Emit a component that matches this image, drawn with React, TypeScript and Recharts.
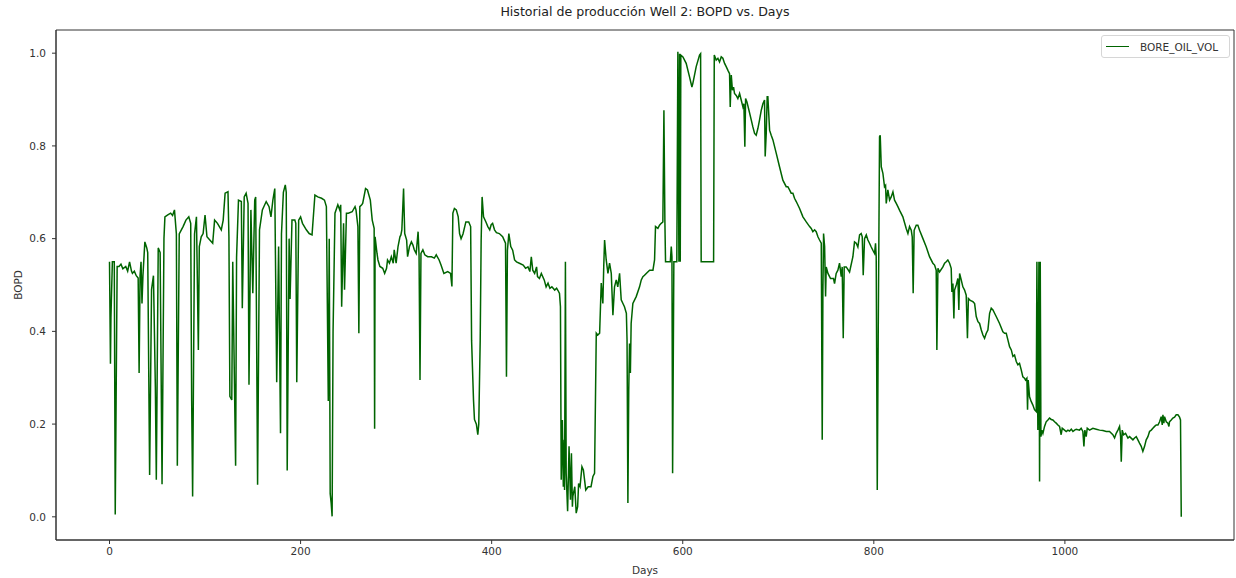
import React from 'react';
import { LineChart, Line, XAxis, YAxis, Legend, ReferenceArea } from 'recharts';

// [day, BORE_OIL_VOL (normalised)], split by period
const period1: [number, number][] = [
  [0, 0.55], [1, 0.33], [1.5, 0.43], [3, 0.55], [5, 0.55], [6, 0.005], [8, 0.54], [10, 0.54],
  [12, 0.545], [14, 0.535], [17, 0.54], [19, 0.53], [21, 0.55], [23, 0.53], [24, 0.525], [26, 0.53],
  [28, 0.52], [30, 0.515], [31, 0.31], [32, 0.52], [33, 0.55], [34, 0.46], [35, 0.52], [37, 0.593],
  [39, 0.58], [40, 0.57], [42, 0.09], [44, 0.49], [46, 0.52], [48, 0.28], [49, 0.08], [51, 0.58],
  [53, 0.57], [55, 0.07], [57, 0.6], [58, 0.647], [61, 0.651], [64, 0.655], [66, 0.65], [68, 0.662],
  [70, 0.61], [71, 0.11], [73, 0.61], [77, 0.626], [80, 0.64], [83, 0.647], [85, 0.633], [86, 0.25],
  [87, 0.044], [89, 0.61], [91, 0.647], [93, 0.36], [94, 0.583], [96, 0.604], [98, 0.611], [100, 0.651],
  [102, 0.604], [105, 0.597], [108, 0.59], [110, 0.64], [113, 0.633], [117, 0.619], [119, 0.64],
  [121, 0.698], [124, 0.701], [125, 0.604], [126, 0.26], [128, 0.252], [129, 0.55], [132, 0.11],
  [133, 0.56], [135, 0.683], [138, 0.68], [139, 0.45], [141, 0.69], [143, 0.698], [145, 0.676],
  [146, 0.285], [148, 0.662], [150, 0.482], [152, 0.683], [153, 0.69], [155, 0.069], [157, 0.619],
  [160, 0.662], [164, 0.68], [167, 0.669], [169, 0.647], [171, 0.683], [173, 0.708], [175, 0.29],
  [177, 0.583], [179, 0.18], [180, 0.61], [182, 0.7], [184, 0.716], [185, 0.7], [186, 0.1],
];

const period2: [number, number][] = [
  [188, 0.6], [189, 0.47], [191, 0.64], [194, 0.64], [195, 0.633], [196, 0.29], [198, 0.64], [200, 0.647],
  [202, 0.633], [206, 0.619], [209, 0.611], [212, 0.608], [215, 0.694], [218, 0.69], [222, 0.687],
  [225, 0.683], [227, 0.669], [228, 0.46], [229, 0.25], [230, 0.6], [231, 0.05], [232, 0.03], [233, 0.001],
  [234, 0.4], [236, 0.655], [239, 0.673], [241, 0.662], [242, 0.673], [243, 0.453], [245, 0.633],
  [246, 0.49], [248, 0.655], [250, 0.655], [254, 0.658], [257, 0.669], [258, 0.662], [260, 0.626],
  [261, 0.396], [262, 0.669], [264, 0.673], [265, 0.676], [268, 0.708], [270, 0.705], [273, 0.683],
  [275, 0.64], [277, 0.622], [277.5, 0.19], [278, 0.604], [280, 0.568], [281, 0.554], [283, 0.54],
  [286, 0.536], [288, 0.525], [290, 0.536], [291, 0.554], [293, 0.547], [295, 0.561], [297, 0.547],
  [298, 0.576], [300, 0.547], [302, 0.583], [304, 0.604], [305, 0.608], [306, 0.619], [307.8, 0.708],
  [309, 0.611], [311, 0.597], [312, 0.561], [314, 0.583], [316, 0.593], [317.6, 0.586], [319, 0.576],
  [321, 0.568], [323, 0.615], [324, 0.565], [325, 0.295], [326, 0.568], [328, 0.576], [330, 0.565],
  [333, 0.561], [337, 0.561], [340, 0.558], [342, 0.565], [345, 0.554], [347, 0.543], [350, 0.525],
  [354, 0.529], [357, 0.525], [358.4, 0.497], [359.4, 0.655], [361, 0.665], [363, 0.662], [365, 0.647],
  [366.4, 0.611], [368, 0.6], [370, 0.61], [373, 0.636], [376, 0.636], [378, 0.626],
];

const period3: [number, number][] = [
  [379, 0.38], [381, 0.252], [382, 0.21], [384, 0.2], [385.5, 0.177], [386.5, 0.2], [388, 0.38],
  [389, 0.597], [390, 0.69], [391.5, 0.647], [394, 0.636], [396, 0.626], [398, 0.619], [399.5, 0.63],
  [401, 0.633], [403, 0.619], [405, 0.613], [408, 0.611], [411.5, 0.604], [414.5, 0.59], [415.5, 0.302],
  [416.5, 0.575], [418, 0.611], [420, 0.583], [422, 0.575], [424, 0.554], [426, 0.55], [429, 0.547],
  [433, 0.543], [435.5, 0.536], [438, 0.539], [440, 0.529], [441.5, 0.561], [443, 0.532], [445, 0.525],
  [447, 0.539], [448, 0.518], [450, 0.514], [452, 0.525], [455, 0.511], [457, 0.496], [459, 0.504],
  [461, 0.493], [463, 0.496], [466, 0.489], [468, 0.493], [470, 0.486], [471, 0.482], [472, 0.453],
  [472.8, 0.08], [474, 0.209], [475, 0.065], [476, 0.166], [476.3, 0.058], [477.2, 0.55], [478, 0.094],
  [479.5, 0.012], [481, 0.152], [482.5, 0.037], [483.5, 0.137], [484.5, 0.022], [485, 0.044],
  [487, 0.065], [488.5, 0.008], [490, 0.022], [491, 0.072], [492.5, 0.065], [494.5, 0.108], [496, 0.101],
  [498.5, 0.058], [501, 0.065], [504, 0.065], [506, 0.087], [507.7, 0.094], [509.5, 0.396], [511, 0.392],
  [513, 0.396], [514.7, 0.504], [516.4, 0.46], [517.3, 0.539], [518.2, 0.597], [519.9, 0.554],
  [521.7, 0.525], [523.4, 0.547], [525.2, 0.525], [526.9, 0.435], [528.6, 0.496], [530.4, 0.511],
  [532, 0.496], [533.9, 0.525], [535.6, 0.468], [537.4, 0.46], [539, 0.453], [541, 0.439], [541.7, 0.382],
  [542.6, 0.03], [543.5, 0.274], [544.3, 0.374], [545.2, 0.31], [546, 0.417], [547.8, 0.46],
  [551.3, 0.475], [554.8, 0.496], [556.6, 0.511], [558.3, 0.518], [560, 0.521], [561.8, 0.525],
  [565.3, 0.532],
];

const period4: [number, number][] = [
  [567, 0.532], [568.8, 0.532], [570.5, 0.554], [571.5, 0.626], [574, 0.622], [575.7, 0.629],
  [577.5, 0.633], [579.2, 0.636], [580.3, 0.877], [581.3, 0.64], [582, 0.55], [584.5, 0.55], [587, 0.55],
  [588, 0.583], [588.7, 0.561], [589.4, 0.094], [590.7, 0.55], [592.5, 0.55], [593.8, 0.55],
  [594.9, 1.003], [596, 0.55], [596.7, 0.999], [597.4, 0.55], [598, 0.996], [600.2, 0.992],
  [603.6, 0.978], [607.1, 0.949], [609.6, 0.927], [610.6, 0.935], [614.1, 0.971], [617.6, 0.996],
  [618.7, 0.999], [619.3, 0.55], [624.6, 0.55], [628.1, 0.55], [632.3, 0.55], [633, 0.996],
  [635, 0.985], [636.8, 0.989], [638.5, 0.981], [640.3, 0.992], [642, 0.989], [643.8, 0.978],
  [645.5, 0.971], [647.3, 0.963], [649, 0.956], [649.7, 0.884], [650.8, 0.953], [652, 0.92],
  [653.2, 0.927], [654.2, 0.913], [656, 0.909], [657.7, 0.902], [659.5, 0.913], [661.2, 0.899],
  [663, 0.884], [664, 0.891], [665, 0.798], [665.8, 0.902], [667.2, 0.895], [669.3, 0.877],
  [671.7, 0.856], [673.4, 0.841], [675.2, 0.827], [676.9, 0.823], [678.7, 0.838], [680.4, 0.856],
  [682.2, 0.877], [683.9, 0.891], [685.6, 0.899], [686.3, 0.777], [687.4, 0.827], [688.4, 0.906],
  [689.1, 0.906], [690.9, 0.834], [692.6, 0.823], [694.4, 0.813], [697.9, 0.784], [701.3, 0.755],
  [704.8, 0.726], [708.3, 0.712], [710, 0.712], [711.8, 0.705], [713.5, 0.698], [715.3, 0.698],
  [717, 0.687], [718.8, 0.68], [722.3, 0.665], [725.8, 0.647], [729.3, 0.636], [732.8, 0.626],
  [734.5, 0.622], [736.2, 0.615], [738, 0.619], [739.7, 0.615], [741.5, 0.604], [743.2, 0.597],
  [745, 0.59], [746, 0.166], [746.7, 0.482], [747.4, 0.611], [748.5, 0.583], [749.5, 0.475],
  [750.2, 0.539], [752, 0.525], [753.7, 0.518],
];

const period5: [number, number][] = [
  [754.7, 0.514], [757.8, 0.514], [758.9, 0.503], [760.6, 0.525], [762.4, 0.532], [764.1, 0.547],
  [765.9, 0.518], [766.9, 0.539], [768, 0.385], [769, 0.539], [771.1, 0.539], [774.6, 0.528],
  [778.1, 0.561], [779.8, 0.593], [781.6, 0.59], [783.3, 0.582], [785.1, 0.608], [786.8, 0.611],
  [787.9, 0.604], [788.9, 0.521], [790.3, 0.6], [792.1, 0.608], [793.8, 0.597], [795.5, 0.59],
  [797.3, 0.582], [799, 0.575], [800.8, 0.568], [801.8, 0.59], [802.5, 0.561], [803.6, 0.058],
  [804.6, 0.389], [806, 0.82], [806.7, 0.823], [807.8, 0.755], [809.5, 0.741], [811.2, 0.712],
  [812.3, 0.715], [813, 0.676], [814.7, 0.705], [816.5, 0.683], [818.2, 0.69], [820, 0.701],
  [821.7, 0.683], [823.5, 0.676], [825.2, 0.669], [827, 0.661], [830.4, 0.647], [833.9, 0.622],
  [835.7, 0.611], [837.4, 0.626], [839.2, 0.618], [840.2, 0.604], [841.2, 0.482], [842.2, 0.618],
  [844.4, 0.629], [846.1, 0.629], [847.9, 0.618], [851.4, 0.6], [854.9, 0.582], [858.3, 0.561],
  [861.8, 0.547], [863.6, 0.543], [865.3, 0.532], [866, 0.36], [867.1, 0.536], [868.8, 0.528],
  [872.3, 0.539], [874.1, 0.547], [875.8, 0.55], [877.5, 0.554], [879.3, 0.547], [881, 0.536],
  [881.7, 0.485], [882.8, 0.503], [883.8, 0.428], [884.5, 0.489], [886.3, 0.5], [888, 0.514],
  [889, 0.446], [889.8, 0.525], [891.5, 0.511], [893.2, 0.496], [895, 0.489], [896.7, 0.478],
  [898, 0.385], [899, 0.471], [900.9, 0.467], [903.7, 0.464], [905.5, 0.46], [907.2, 0.432],
  [909, 0.421], [910.7, 0.417], [912.5, 0.403], [914.2, 0.392], [915.9, 0.385], [917.7, 0.396],
  [919.4, 0.403], [921.2, 0.439], [922.9, 0.45], [924.7, 0.446], [926.4, 0.439], [928.1, 0.432],
  [931.6, 0.417], [935.1, 0.399], [936.9, 0.396], [938.6, 0.396], [940.4, 0.381], [942.1, 0.367],
];

const period6: [number, number][] = [
  [943.9, 0.36], [945.6, 0.346], [947.3, 0.349], [949.1, 0.335], [950.8, 0.328], [952.5, 0.331],
  [954.3, 0.317], [956, 0.302], [957.7, 0.299], [958.8, 0.295], [960.2, 0.299], [960.9, 0.231],
  [961.6, 0.295], [963, 0.259], [964.7, 0.249], [966.5, 0.241], [968.2, 0.231], [970, 0.227],
  [970.7, 0.55], [971.7, 0.187], [972.8, 0.55], [973.5, 0.076], [974.2, 0.55], [974.9, 0.173],
  [975.9, 0.187], [977, 0.18], [978.7, 0.195], [980.4, 0.205], [982.2, 0.209], [983.9, 0.213],
  [985.7, 0.21], [987.4, 0.209], [989.2, 0.205], [990.9, 0.202], [992.7, 0.198], [994.4, 0.195],
  [996.1, 0.177], [997.2, 0.191], [999.6, 0.187], [1001.4, 0.184], [1003.2, 0.187], [1004.9, 0.185],
  [1006.7, 0.189], [1008.4, 0.184], [1010.2, 0.187], [1011.9, 0.189], [1015.3, 0.187], [1017, 0.191],
  [1018.8, 0.184], [1019.9, 0.152], [1020.9, 0.187], [1022.3, 0.173], [1023.4, 0.191], [1025.8, 0.187],
  [1029.3, 0.191], [1032.8, 0.189], [1036.3, 0.187], [1039.8, 0.186], [1043.3, 0.184], [1046.7, 0.184],
  [1050.2, 0.177], [1052, 0.17], [1053.7, 0.18], [1055.5, 0.187], [1057.2, 0.195], [1058.3, 0.173],
  [1059, 0.119], [1060, 0.187], [1061.4, 0.177], [1063.5, 0.18], [1066, 0.17], [1067.7, 0.173],
  [1071.2, 0.166], [1072.9, 0.17], [1074.7, 0.173], [1076.4, 0.166], [1078.1, 0.159], [1079.9, 0.152],
  [1081.6, 0.141], [1083.4, 0.152], [1085.1, 0.166], [1086.9, 0.173], [1088.6, 0.184], [1090.4, 0.187],
  [1092.1, 0.191], [1093.9, 0.195], [1095.6, 0.198], [1097.4, 0.198], [1099.1, 0.205], [1100.8, 0.216],
  [1101.9, 0.198], [1102.6, 0.22], [1103.6, 0.202], [1104.3, 0.216], [1106.1, 0.205], [1107.8, 0.202],
  [1108.9, 0.195], [1109.5, 0.205], [1111.3, 0.209], [1113, 0.213], [1114.8, 0.215], [1116.5, 0.22],
  [1118.3, 0.22], [1120, 0.215], [1121, 0.209], [1121.8, 0],
];

const xTicks = [0, 200, 400, 600, 800, 1000];
const yTicks = [0, 0.2, 0.4, 0.6, 0.8, 1.0];
const xDomain: [number, number] = [-56, 1177];
const yDomain: [number, number] = [-0.05, 1.05];

const chartData = [...period1, ...period2, ...period3, ...period4, ...period5, ...period6].map(
  ([day, vol]) => ({ day, BORE_OIL_VOL: vol })
);

const FONT = '"DejaVu Sans", sans-serif';
const INK = '#333';
const LINE_COLOR = '#006400';

const renderLegend = () => (
  <div
    style={{
      display: 'flex',
      alignItems: 'center',
      boxSizing: 'border-box',
      width: 129,
      height: 23,
      padding: '0 6px 0 4px',
      border: '1px solid #d6d6d6',
      borderRadius: 3,
      background: '#fff',
      fontFamily: FONT,
      fontSize: 10.5,
      color: INK,
    }}
  >
    <span style={{ display: 'inline-block', width: 23, height: 0, borderTop: `1.5px solid ${LINE_COLOR}`, marginRight: 11 }} />
    <span>BORE_OIL_VOL</span>
  </div>
);

const App: React.FC = () => {
  const tickStyle = { fill: INK, fontSize: 10.5, fontFamily: FONT };
  return (
    <div style={{ position: 'absolute', left: 0, top: 0, width: 1236, height: 578, background: '#fff' }}>
      <div
        style={{
          position: 'absolute',
          left: 56,
          width: 1178,
          top: 4,
          textAlign: 'center',
          fontFamily: FONT,
          fontSize: 12.6,
          color: '#222',
        }}
      >
        Historial de producción Well 2: BOPD vs. Days
      </div>
      <LineChart width={1236} height={578} data={chartData} margin={{ top: 30, right: 2, bottom: 0, left: 0 }}>
        <XAxis
          dataKey="day"
          type="number"
          domain={xDomain}
          ticks={xTicks}
          allowDataOverflow
          height={38}
          tickSize={4}
          tickMargin={4}
          axisLine={{ stroke: INK }}
          tickLine={{ stroke: INK }}
          tick={tickStyle}
          label={{ value: 'Days', position: 'insideBottom', offset: 4, fill: INK, fontSize: 10.5, fontFamily: FONT }}
        />
        <YAxis
          type="number"
          domain={yDomain}
          ticks={yTicks}
          allowDataOverflow
          width={56}
          tickSize={4}
          tickMargin={6}
          tickFormatter={(v: number) => v.toFixed(1)}
          axisLine={{ stroke: INK }}
          tickLine={{ stroke: INK }}
          tick={tickStyle}
          label={{
            value: 'BOPD',
            angle: -90,
            position: 'insideLeft',
            offset: 18,
            fill: INK,
            fontSize: 10.5,
            fontFamily: FONT,
            style: { textAnchor: 'middle' },
          }}
        />
        {/* axes frame (matplotlib spines) */}
        <ReferenceArea
          x1={xDomain[0]}
          x2={xDomain[1]}
          y1={yDomain[0]}
          y2={yDomain[1]}
          fill="none"
          fillOpacity={0}
          stroke={INK}
          strokeWidth={1}
          ifOverflow="visible"
        />
        <Legend
          layout="horizontal"
          verticalAlign="middle"
          align="center"
          content={renderLegend}
          wrapperStyle={{ left: 1101, top: 35, width: 129, height: 23 }}
        />
        <Line
          type="linear"
          dataKey="BORE_OIL_VOL"
          stroke={LINE_COLOR}
          strokeWidth={1.5}
          dot={false}
          activeDot={false}
          isAnimationActive={false}
        />
      </LineChart>
    </div>
  );
};

export default App;
